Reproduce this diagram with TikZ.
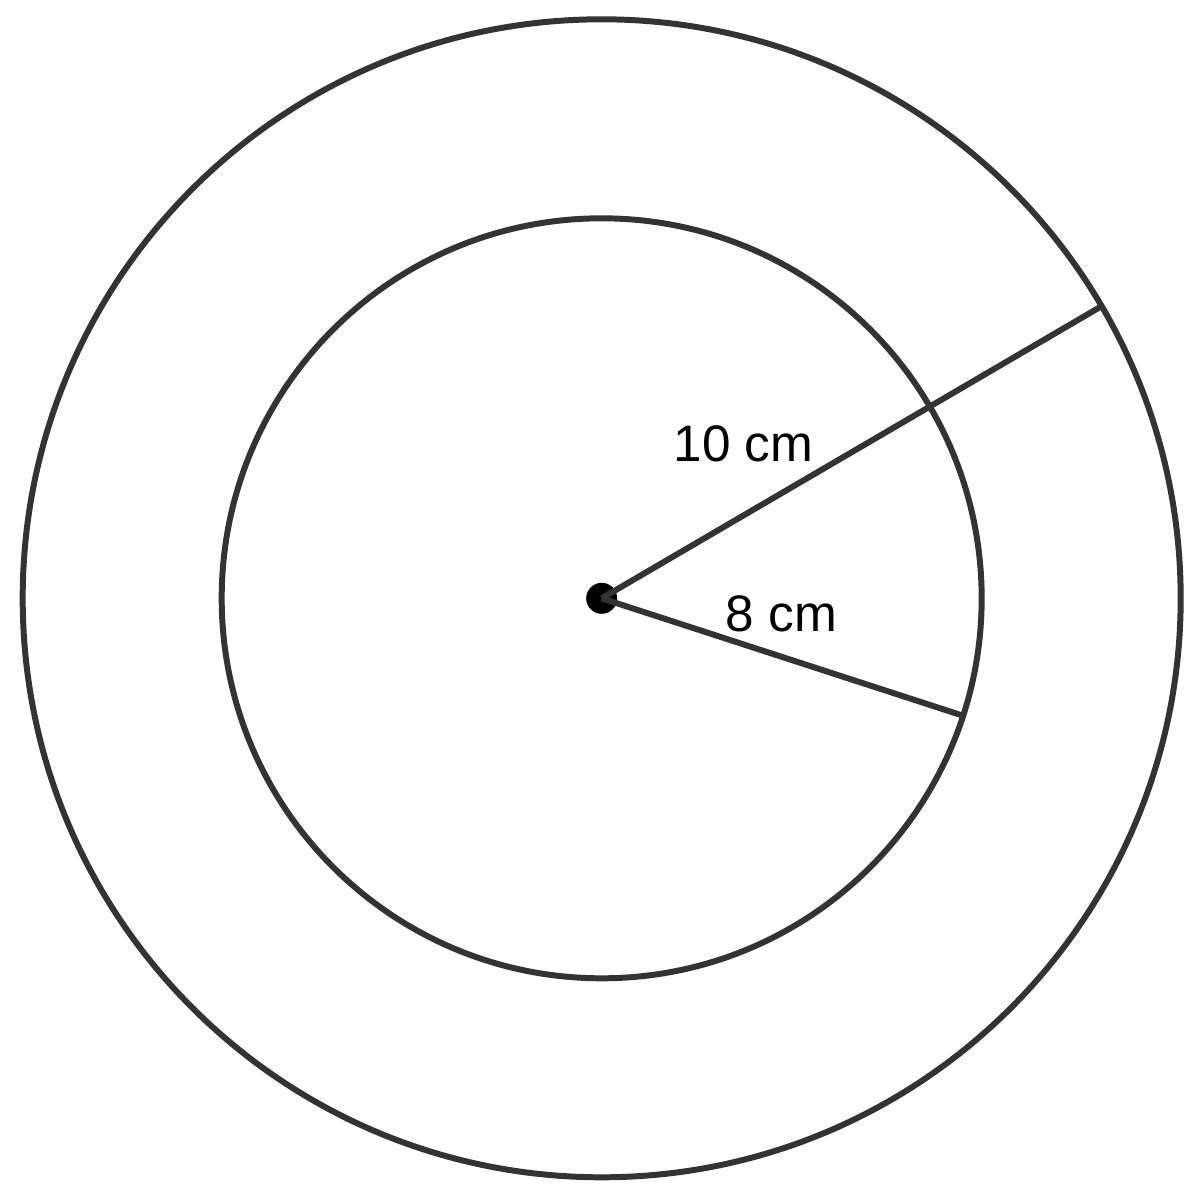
\documentclass[tikz,border=0pt]{standalone}
\usepackage{fontspec}
\setmainfont{Liberation Sans}
\usepackage{xcolor}
\definecolor{ink}{HTML}{333333}

\begin{document}
\begin{tikzpicture}[
    ring/.style={ink, line width=1.7pt},
    radius line/.style={ink, line width=1.7pt},
    size label/.style={font=\fontsize{14.6}{17}\selectfont, text=black, anchor=base west, inner sep=0pt}
  ]
  \useasboundingbox (-6.017,-6.017) rectangle (5.983,5.983);
  \draw[ring] (0,0) circle (5.79);
  \draw[ring] (0,0) circle (3.80);
  \node[circle, fill=black, inner sep=0pt, minimum size=0.31cm] (centre) at (0,0) {};
  \coordinate (outer end) at (30.3:5.79);
  \coordinate (inner end) at (-18:3.80);
  \draw[radius line] (centre.center) -- (outer end);
  \draw[radius line] (centre.center) -- (inner end);
  \node[size label] (outer label) at (0.713,1.373) {10 cm};
  \node[size label] (inner label) at (1.233,-0.327) {8 cm};
\end{tikzpicture}
\end{document}
